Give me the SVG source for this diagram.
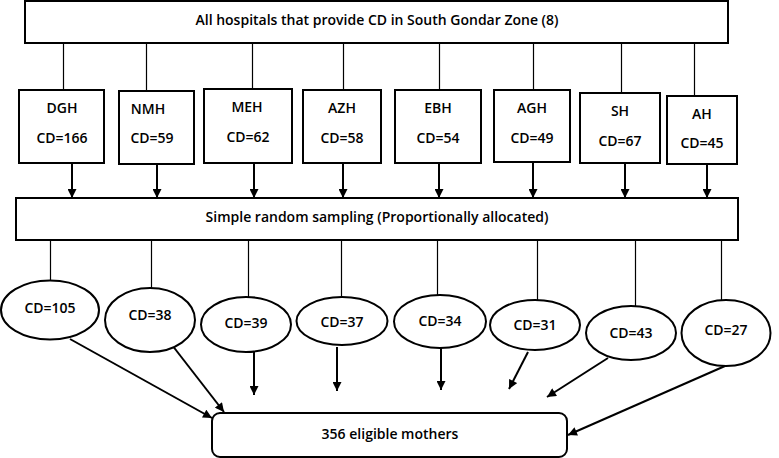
<svg xmlns="http://www.w3.org/2000/svg" width="779" height="458" viewBox="0 0 779 458">
<defs>
<marker id="ah" viewBox="0 0 10 10" refX="10" refY="5" markerWidth="5" markerHeight="4.5" orient="auto" markerUnits="strokeWidth">
<path d="M0,0 L10,5 L0,10 z" fill="#000"/>
</marker>
<style>
.box{fill:#fff;stroke:#000;stroke-width:2}
.t{font-family:"Open Sans","Liberation Sans",sans-serif;font-size:14px;font-weight:600;fill:#000;text-anchor:middle;dominant-baseline:central}
.thin{stroke:#000;stroke-width:1.2;fill:none}
.arr{stroke:#000;stroke-width:2;fill:none;marker-end:url(#ah)}
</style>
</defs>
<rect width="779" height="458" fill="#fff"/>
<g id="connectors">
<path class="thin" d="M63.5,43V90M146.5,43V91M252.5,43V89M343.5,43V90M439.5,43V90M533.5,43V90M621.5,43V93M694.5,43V96"/>
<path class="thin" d="M50.5,240V281M151.5,240V288M248.5,240V297M341.5,240V297M437.5,240V296M537.5,240V300M635.5,240V306M721.5,240V300"/>
<line class="arr" x1="72" y1="163" x2="72" y2="198"/>
<line class="arr" x1="157" y1="164" x2="157" y2="198"/>
<line class="arr" x1="254" y1="163" x2="254" y2="198"/>
<line class="arr" x1="343" y1="163" x2="343" y2="198"/>
<line class="arr" x1="439" y1="163" x2="439" y2="198"/>
<line class="arr" x1="533" y1="162" x2="533" y2="198"/>
<line class="arr" x1="625" y1="163" x2="625" y2="198"/>
<line class="arr" x1="707" y1="164" x2="707" y2="198"/>
<line class="arr" x1="70" y1="339" x2="212" y2="418"/>
<line class="arr" x1="172" y1="345" x2="224" y2="412"/>
<line class="arr" x1="254" y1="348" x2="254" y2="395"/>
<line class="arr" x1="337" y1="347" x2="337" y2="391"/>
<line class="arr" x1="441" y1="348" x2="441" y2="390"/>
<line class="arr" x1="528" y1="352" x2="509" y2="389"/>
<line class="arr" x1="608" y1="358" x2="547" y2="397"/>
<line class="arr" x1="725" y1="366" x2="568" y2="435"/>
</g>
<g id="top"><rect class="box" x="25" y="1" width="703" height="42"/><text class="t" x="377" y="19">All hospitals that provide CD in South Gondar Zone (8)</text></g>
<g id="dgh"><rect class="box" x="19" y="90" width="85" height="73"/><text class="t" x="62" y="107">DGH</text><text class="t" x="62" y="137">CD=166</text></g>
<g id="nmh"><rect class="box" x="119" y="91" width="75" height="73"/><text class="t" x="148" y="108">NMH</text><text class="t" x="152" y="137">CD=59</text></g>
<g id="meh"><rect class="box" x="204" y="89" width="88" height="74"/><text class="t" x="247" y="106">MEH</text><text class="t" x="248" y="136">CD=62</text></g>
<g id="azh"><rect class="box" x="303" y="90" width="78" height="73"/><text class="t" x="342" y="107">AZH</text><text class="t" x="342" y="137">CD=58</text></g>
<g id="ebh"><rect class="box" x="395" y="90" width="86" height="73"/><text class="t" x="438" y="107">EBH</text><text class="t" x="438" y="137">CD=54</text></g>
<g id="agh"><rect class="box" x="494" y="90" width="76" height="72"/><text class="t" x="532" y="107">AGH</text><text class="t" x="532" y="137">CD=49</text></g>
<g id="sh"><rect class="box" x="580" y="93" width="80" height="70"/><text class="t" x="620" y="110">SH</text><text class="t" x="620" y="140">CD=67</text></g>
<g id="ah"><rect class="box" x="667" y="96" width="70" height="68"/><text class="t" x="702" y="113">AH</text><text class="t" x="702" y="142">CD=45</text></g>
<g id="srs"><rect class="box" x="16" y="198" width="722" height="42"/><text class="t" x="377" y="216">Simple random sampling (Proportionally allocated)</text></g>
<g id="e1"><ellipse class="box" cx="50" cy="310" rx="49" ry="29.5"/><text class="t" x="50" y="307">CD=105</text></g>
<g id="e2"><ellipse class="box" cx="150" cy="320" rx="45" ry="32"/><text class="t" x="150" y="314">CD=38</text></g>
<g id="e3"><ellipse class="box" cx="246" cy="324.5" rx="45" ry="27.5"/><text class="t" x="246" y="322">CD=39</text></g>
<g id="e4"><ellipse class="box" cx="342" cy="321" rx="45.5" ry="24"/><text class="t" x="342" y="321">CD=37</text></g>
<g id="e5"><ellipse class="box" cx="440" cy="321.5" rx="46" ry="26.5"/><text class="t" x="440" y="320">CD=34</text></g>
<g id="e6"><ellipse class="box" cx="535" cy="325" rx="45" ry="25"/><text class="t" x="535" y="324">CD=31</text></g>
<g id="e7"><ellipse class="box" cx="631" cy="333" rx="45" ry="27"/><text class="t" x="631" y="332">CD=43</text></g>
<g id="e8"><ellipse class="box" cx="726" cy="333" rx="44.5" ry="33"/><text class="t" x="726" y="329">CD=27</text></g>
<g id="final"><rect class="box" x="212" y="413" width="355" height="44" rx="8"/><text class="t" x="390" y="433">356 eligible mothers</text></g>
</svg>
